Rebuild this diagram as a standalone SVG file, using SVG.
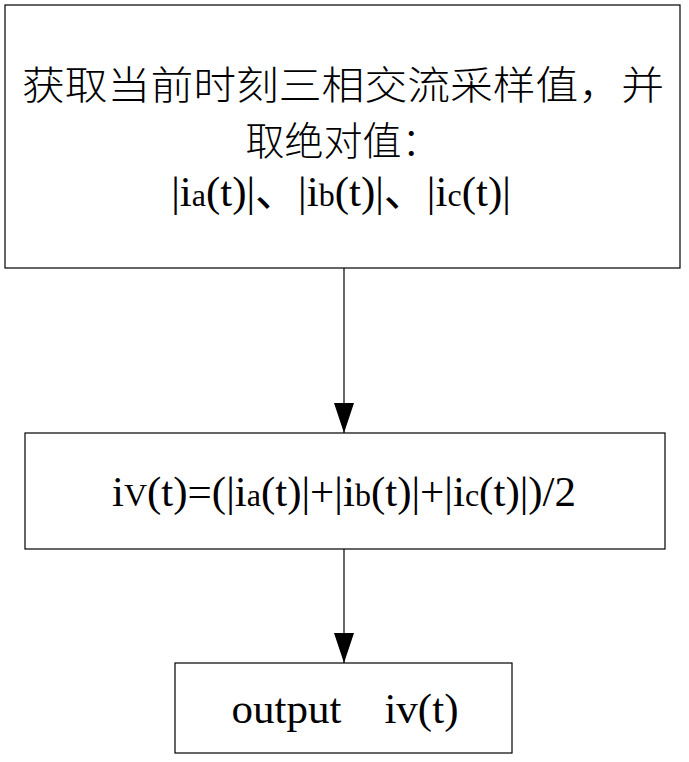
<svg xmlns="http://www.w3.org/2000/svg" width="689" height="762" viewBox="0 0 689 762">
<style>
.box{fill:#fff;stroke:#000;stroke-width:1.2}
.t{font-family:"Liberation Serif","Noto Sans CJK SC",serif;font-size:43px;fill:#000}
.cjk{font-family:"Noto Sans CJK SC","Liberation Serif",sans-serif;font-size:39px;font-weight:300;fill:#000}
.s{font-size:32px}
.ln{stroke:#000;stroke-width:1.2;fill:none}
</style>
<defs>
<marker id="ah" markerWidth="30" markerHeight="20" refX="30" refY="10" orient="auto" markerUnits="userSpaceOnUse" viewBox="0 0 30 20">
<path d="M0,0 L30,10 L0,20 Z" fill="#000"/>
</marker>
</defs>
<g id="connectors">
<line class="ln" x1="344" y1="268" x2="344" y2="433" marker-end="url(#ah)"/>
<line class="ln" x1="344" y1="549" x2="344" y2="663" marker-end="url(#ah)"/>
</g>
<g id="node1">
<rect class="box" x="5" y="5" width="675" height="263"/>
<text class="cjk" x="343" y="99" text-anchor="middle" textLength="642" lengthAdjust="spacingAndGlyphs">获取当前时刻三相交流采样值，并</text>
<text class="cjk" x="343" y="155" text-anchor="middle">取绝对值：</text>
<text class="t" x="341" y="206" text-anchor="middle">|i<tspan class="s">a</tspan>(t)|、|i<tspan class="s">b</tspan>(t)|、|i<tspan class="s">c</tspan>(t)|</text>
</g>
<g id="node2">
<rect class="box" x="25" y="433" width="640" height="116"/>
<text class="t" x="344" y="506" text-anchor="middle">i<tspan class="s">V</tspan>(t)=(|i<tspan class="s">a</tspan>(t)|+|i<tspan class="s">b</tspan>(t)|+|i<tspan class="s">c</tspan>(t)|)/2</text>
</g>
<g id="node3">
<rect class="box" x="175" y="663" width="337" height="90"/>
<text class="t" x="345" y="723" text-anchor="middle" xml:space="preserve">output    iv(t)</text>
</g>
</svg>
